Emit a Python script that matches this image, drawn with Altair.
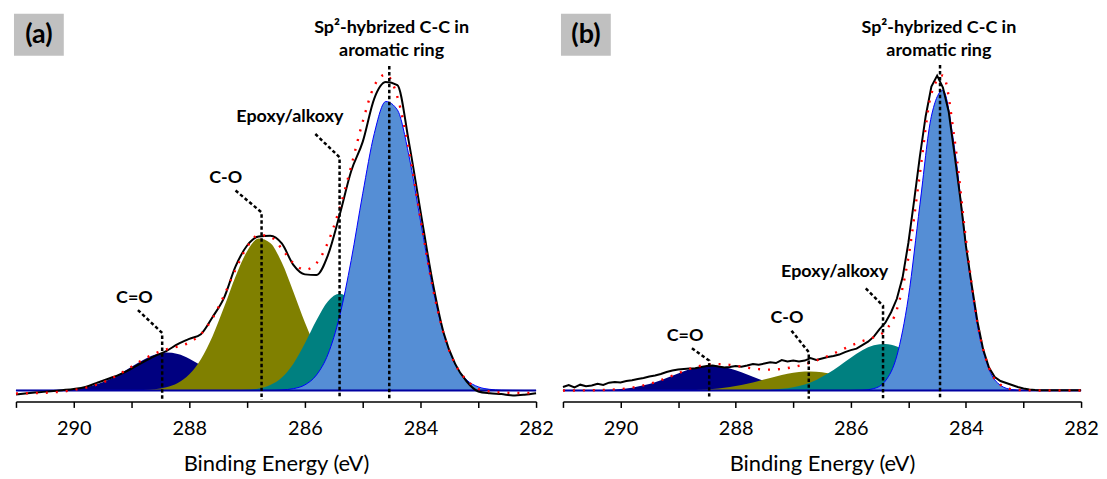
import altair as alt
import pandas as pd

# ---------------- data ----------------
EV = [291.0, 290.8, 290.6, 290.4, 290.2, 290.0, 289.8, 289.6, 289.4, 289.2,
      289.0, 288.8, 288.6, 288.4, 288.2, 288.0, 287.8, 287.6, 287.4, 287.2,
      287.0, 286.8, 286.6, 286.4, 286.2, 286.0, 285.8, 285.6, 285.4, 285.2,
      285.0, 284.8, 284.6, 284.4, 284.2, 284.0, 283.8, 283.6, 283.4, 283.2,
      283.0, 282.8, 282.6, 282.4, 282.2, 282.0]

EV_FINE = [291.0, 290.9, 290.8, 290.7, 290.6, 290.5, 290.4, 290.3, 290.2, 290.1,
           290.0, 289.9, 289.8, 289.7, 289.6, 289.5, 289.4, 289.3, 289.2, 289.1,
           289.0, 288.9, 288.8, 288.7, 288.6, 288.5, 288.4, 288.3, 288.2, 288.1,
           288.0, 287.9, 287.8, 287.7, 287.6, 287.5, 287.4, 287.3, 287.2, 287.1,
           287.0, 286.9, 286.8, 286.7, 286.6, 286.5, 286.4, 286.3, 286.2, 286.1,
           286.0, 285.9, 285.8, 285.7, 285.6, 285.5, 285.4, 285.3, 285.2, 285.1,
           285.0, 284.9, 284.8, 284.7, 284.6, 284.5, 284.4, 284.3, 284.2, 284.1,
           284.0, 283.9, 283.8, 283.7, 283.6, 283.5, 283.4, 283.3, 283.2, 283.1,
           283.0, 282.9, 282.8, 282.7, 282.6, 282.5, 282.4, 282.3, 282.2, 282.1, 282.0]

# panel (a)
A_MEASURED = [-4.0, -2.8, -1.8, -0.8, 0.3, 1.5, 3.5, 7.6, 11.8, 16.2,
              22.0, 28.5, 34.5, 39.5, 46.5, 51.8, 56.5, 73.5, 93.0, 124.5,
              145.5, 154.5, 155.3, 147.5, 126.0, 116.5, 115.8, 136.0, 176.0, 220.0,
              249.5, 293.0, 309.5, 306.5, 249.0, 180.0, 112.0, 58.0, 26.7, 9.0,
              -1.0, -2.8, -3.6, -5.0, -4.2, -2.7]
A_FIT = [-3.0, -2.8, -2.5, -2.0, -1.2, 0.5, 2.6, 5.8, 10.5, 16.7,
         23.9, 31.0, 36.9, 41.1, 44.0, 48.2, 56.6, 72.3, 95.2, 121.5,
         144.1, 156.1, 154.4, 142.2, 127.8, 121.2, 127.7, 148.8, 182.6, 224.9,
         269.7, 305.6, 317.1, 294.7, 241.1, 172.1, 106.7, 57.1, 26.4, 10.5,
         1.5, -1.0, -2.0, -2.5, -2.5, -2.5]
A_CEO = [0, 0, 0.1, 0.3, 0.7, 1.5, 3.2, 6.2, 10.7, 16.7,
         23.8, 30.6, 35.8, 38.0, 36.5, 31.9, 25.2, 18.1, 11.8, 7.0,
         3.7, 1.8, 0.8, 0.3, 0.1, 0, 0, 0, 0, 0,
         0, 0, 0, 0, 0, 0, 0, 0, 0, 0,
         0, 0, 0, 0, 0, 0]
A_CO = [0, 0, 0, 0, 0, 0, 0, 0, 0, 0,
        0.1, 0.4, 1.1, 3.1, 7.5, 16.3, 31.4, 54.2, 83.4, 114.4,
        139.8, 152.4, 148.1, 128.3, 99.0, 68.3, 41.8, 22.9, 11.2, 4.9,
        1.9, 0.6, 0.2, 0, 0, 0, 0, 0, 0, 0,
        0, 0, 0, 0, 0, 0]
A_EPOXY = [0, 0, 0, 0, 0, 0, 0, 0, 0, 0,
           0, 0, 0, 0, 0, 0, 0, 0, 0, 0.1,
           0.6, 1.9, 5.5, 13.1, 26.9, 47.3, 70.4, 89.5, 97.0, 89.5,
           70.4, 47.3, 26.9, 13.1, 5.5, 1.9, 0.6, 0.2, 0, 0,
           0, 0, 0, 0, 0, 0]
A_SP2 = [0, 0, 0, 0, 0, 0, 0, 0, 0, 0,
         0, 0, 0, 0, 0, 0, 0, 0, 0, 0,
         0, 0, 0, 0.5, 1.8, 5.6, 15.5, 36.4, 74.4, 130.5,
         197.4, 257.7, 290.0, 281.6, 235.6, 170.2, 106.1, 56.9, 26.4, 10.5,
         3.6, 1.1, 0.3, 0.1, 0, 0]

# panel (b)
B_MEASURED = [3.5, 5.5, 3.0, 5.8, 4.2, 5.0, 6.8, 5.5, 7.8, 8.5,
              8.0, 9.5, 10.2, 11.5, 12.5, 14.0, 15.0, 16.5, 18.5, 20.0,
              21.0, 21.5, 22.0, 22.4, 23.5, 24.5, 25.0, 24.0, 23.0, 23.6,
              24.5, 23.8, 25.0, 26.5, 25.8, 27.0, 28.2, 27.5, 30.5, 29.0,
              30.0, 29.0, 30.0, 32.5, 30.5, 32.0, 33.5, 34.5, 36.0, 38.5,
              40.5, 42.0, 45.5, 49.0, 54.0, 61.5, 68.0, 78.5, 92.0, 113.5,
              148.0, 190.5, 235.0, 275.0, 305.0, 316.0, 304.0, 280.0, 238.0, 194.0,
              145.0, 106.0, 69.0, 41.0, 23.0, 13.5, 9.5, 7.5, 5.5, 3.5,
              2.0, 1.0, 0.5, 0.3, 0.2, 0.2, 0.2, 0.2, 0.2, 0.2, 0.2]
B_FIT = [0, 0, 0.1, 0.3, 0.7, 1.4, 2.8, 5.1, 8.3, 12.5,
         17.2, 21.6, 24.9, 26.5, 26.3, 24.8, 22.9, 21.4, 20.9, 21.6,
         23.5, 26.2, 30.0, 34.4, 39.7, 44.9, 49.5, 53.4, 60.2, 81.2,
         133.1, 217.4, 297.9, 316.2, 253.1, 151.8, 67.8, 22.7, 5.7, 1.1,
         0.2, 0, 0, 0, 0, 0]
B_CEO = [0, 0, 0.1, 0.3, 0.7, 1.4, 2.8, 5.1, 8.3, 12.4,
         17.0, 21.2, 24.1, 25.0, 23.6, 20.4, 16.1, 11.5, 7.6, 4.5,
         2.5, 1.2, 0.6, 0.2, 0.1, 0, 0, 0, 0, 0,
         0, 0, 0, 0, 0, 0, 0, 0, 0, 0,
         0, 0, 0, 0, 0, 0]
B_CO = [0, 0, 0, 0, 0, 0, 0, 0, 0, 0.1,
        0.2, 0.4, 0.8, 1.5, 2.7, 4.4, 6.7, 9.6, 12.6, 15.5,
        17.7, 18.9, 18.8, 17.3, 15.0, 12.0, 8.9, 6.2, 4.0, 2.4,
        1.4, 0.7, 0.35, 0.16, 0.1, 0, 0, 0, 0, 0,
        0, 0, 0, 0, 0, 0]
B_EPOXY = [0, 0, 0, 0, 0, 0, 0, 0, 0, 0,
           0, 0, 0, 0, 0, 0, 0.1, 0.3, 0.7, 1.6,
           3.3, 6.1, 10.6, 16.9, 24.6, 32.9, 40.3, 45.3, 46.7, 44.1,
           38.3, 30.4, 22.2, 14.8, 9.1, 5.2, 2.6, 1.2, 0.5, 0.2,
           0.1, 0, 0, 0, 0, 0]
B_SP2 = [0, 0, 0, 0, 0, 0, 0, 0, 0, 0,
         0, 0, 0, 0, 0, 0, 0, 0, 0, 0,
         0, 0, 0, 0, 0, 0, 0.3, 1.9, 9.5, 34.7,
         93.4, 186.3, 275.3, 301.2, 243.9, 146.6, 65.2, 21.5, 5.2, 0.9,
         0.1, 0, 0, 0, 0, 0]

TICKS = [291, 290, 289, 288, 287, 286, 285, 284, 283, 282]

SP2_LINE1 = "Sp\u00b2-hybrized C-C in"
SP2_LINE2 = "aromatic ring"

# annotation anchors (eV, intensity)
LEADERS_A = {
    "C=O": [(288.89, 80.7), (288.47, 57.7), (288.47, -9.3)],
    "C-O": [(287.20, 200.7), (286.75, 178.7), (286.75, -9.3)],
    "Epoxy": [(285.82, 257.4), (285.40, 234.0), (285.40, -6.3)],
    "Sp2": [(284.54, 325.7), (284.54, -9.3)],
}
LABELS_A = [(SP2_LINE1, 284.50, 358.4), (SP2_LINE2, 284.50, 335.7),
            ("Epoxy/alkoxy", 286.26, 269.7), ("C-O", 287.37, 208.4),
            ("C=O", 288.95, 87.4)]
LEADERS_B = {
    "C=O": [(288.76, 42.4), (288.46, 30.0), (288.46, -8.3)],
    "C-O": [(287.03, 60.0), (286.73, 38.4), (286.73, -8.3)],
    "Epoxy": [(285.74, 102.4), (285.44, 85.0), (285.44, -8.3)],
    "Sp2": [(284.45, 326.7), (284.45, -8.3)],
}
LABELS_B = [(SP2_LINE1, 284.47, 358.4), (SP2_LINE2, 284.47, 335.7),
            ("Epoxy/alkoxy", 286.28, 114.0), ("C-O", 287.11, 67.7),
            ("C=O", 288.88, 50.0)]

FONT = "Lato"
PLOT_H = 389


def panel(tag, width, ev, fit, ceo, co, epoxy, sp2, meas_ev, meas, meas_interp,
          leaders, labels):
    df = pd.DataFrame({"eV": ev, "fit": fit, "ceo": ceo, "co": co,
                       "epoxy": epoxy, "sp2": sp2})
    dm = pd.DataFrame({"eV": meas_ev, "meas": meas})
    rows = []
    for name, pts in leaders.items():
        for i, (e, v) in enumerate(pts):
            rows.append({"name": name, "ord": i, "eV": e, "v": v})
    dl = pd.DataFrame(rows)
    dt = pd.DataFrame([{"text": t, "eV": e, "v": v} for t, e, v in labels])
    dbase = pd.DataFrame({"eV": [291.0], "eV2": [282.0], "v": [0.0]})

    xscale = alt.Scale(domain=[282, 291], reverse=True, nice=False, zero=False)
    yscale = alt.Scale(domain=[-11, 378], nice=False, zero=False)
    xaxis = alt.Axis(title="Binding Energy (eV)", values=TICKS,
                     labelExpr="datum.value % 2 == 0 ? datum.label : ''",
                     grid=False, tickSize=6, tickWidth=1.5, domainWidth=1.5,
                     domainColor="black", tickColor="black",
                     labelFlush=False, labelOverlap=False,
                     labelFont=FONT, labelFontSize=20, labelColor="black",
                     labelPadding=11,
                     titleFont=FONT, titleFontSize=22, titleFontWeight="normal",
                     titleColor="black", titlePadding=15)

    def X(field="eV"):
        return alt.X(f"{field}:Q", scale=xscale, axis=xaxis)

    def Y(field):
        return alt.Y(f"{field}:Q", scale=yscale, axis=None)

    base = alt.Chart(df)
    layers = []
    for col, colr in [("ceo", "#000080"), ("co", "#808000"), ("epoxy", "#008080")]:
        layers.append(base.mark_area(interpolate="monotone", color=colr, opacity=1)
                      .encode(x=X(), y=Y(col), y2=alt.datum(0)))
    layers.append(base.mark_area(interpolate="monotone", color="#558ED5", opacity=1,
                                 stroke="#0000FF", strokeWidth=1)
                  .encode(x=X(), y=Y("sp2"), y2=alt.datum(0)))
    layers.append(alt.Chart(dbase).mark_rule(color="#0000A0", strokeWidth=2)
                  .encode(x=X(), x2="eV2:Q", y=Y("v")))
    layers.append(alt.Chart(dm).mark_line(color="black", strokeWidth=2,
                                          interpolate=meas_interp)
                  .encode(x=X(), y=Y("meas")))
    layers.append(base.mark_line(color="#FF0000", strokeWidth=2.4, strokeDash=[2, 8],
                                 interpolate="monotone")
                  .encode(x=X(), y=Y("fit")))
    layers.append(alt.Chart(dl).mark_line(color="black", strokeWidth=2.5,
                                          strokeDash=[3.5, 2.5])
                  .encode(x=X(), y=Y("v"), detail="name:N", order="ord:Q"))
    layers.append(alt.Chart(dt).mark_text(font=FONT, fontSize=18, fontWeight="bold",
                                          color="black", align="center",
                                          baseline="alphabetic")
                  .encode(x=X(), y=Y("v"), text="text:N"))
    dtag = pd.DataFrame({"tag": [tag]})
    layers.append(alt.Chart(dtag).mark_rect(color="#C0C0C0")
                  .encode(x=alt.value(-2), x2=alt.value(48),
                          y=alt.value(0), y2=alt.value(42)))
    layers.append(alt.Chart(dtag).mark_text(font=FONT, fontSize=27, fontWeight="bold",
                                            color="black", align="center",
                                            baseline="middle")
                  .encode(x=alt.value(23), y=alt.value(21), text="tag:N"))
    return alt.layer(*layers).properties(width=width, height=PLOT_H)


pa = panel("(a)", 522, EV, A_FIT, A_CEO, A_CO, A_EPOXY, A_SP2,
           EV, A_MEASURED, "monotone", LEADERS_A, LABELS_A)
pb = panel("(b)", 520, EV, B_FIT, B_CEO, B_CO, B_EPOXY, B_SP2,
           EV_FINE, B_MEASURED, "linear", LEADERS_B, LABELS_B)

chart = (alt.hconcat(pa, pb, spacing=27, bounds="flush")
         .properties(padding={"left": 3, "top": 5, "right": 0, "bottom": 0},
                     background="white")
         .configure_view(stroke=None))

chart.save("out.html", embed_options={"renderer": "svg", "actions": False})
